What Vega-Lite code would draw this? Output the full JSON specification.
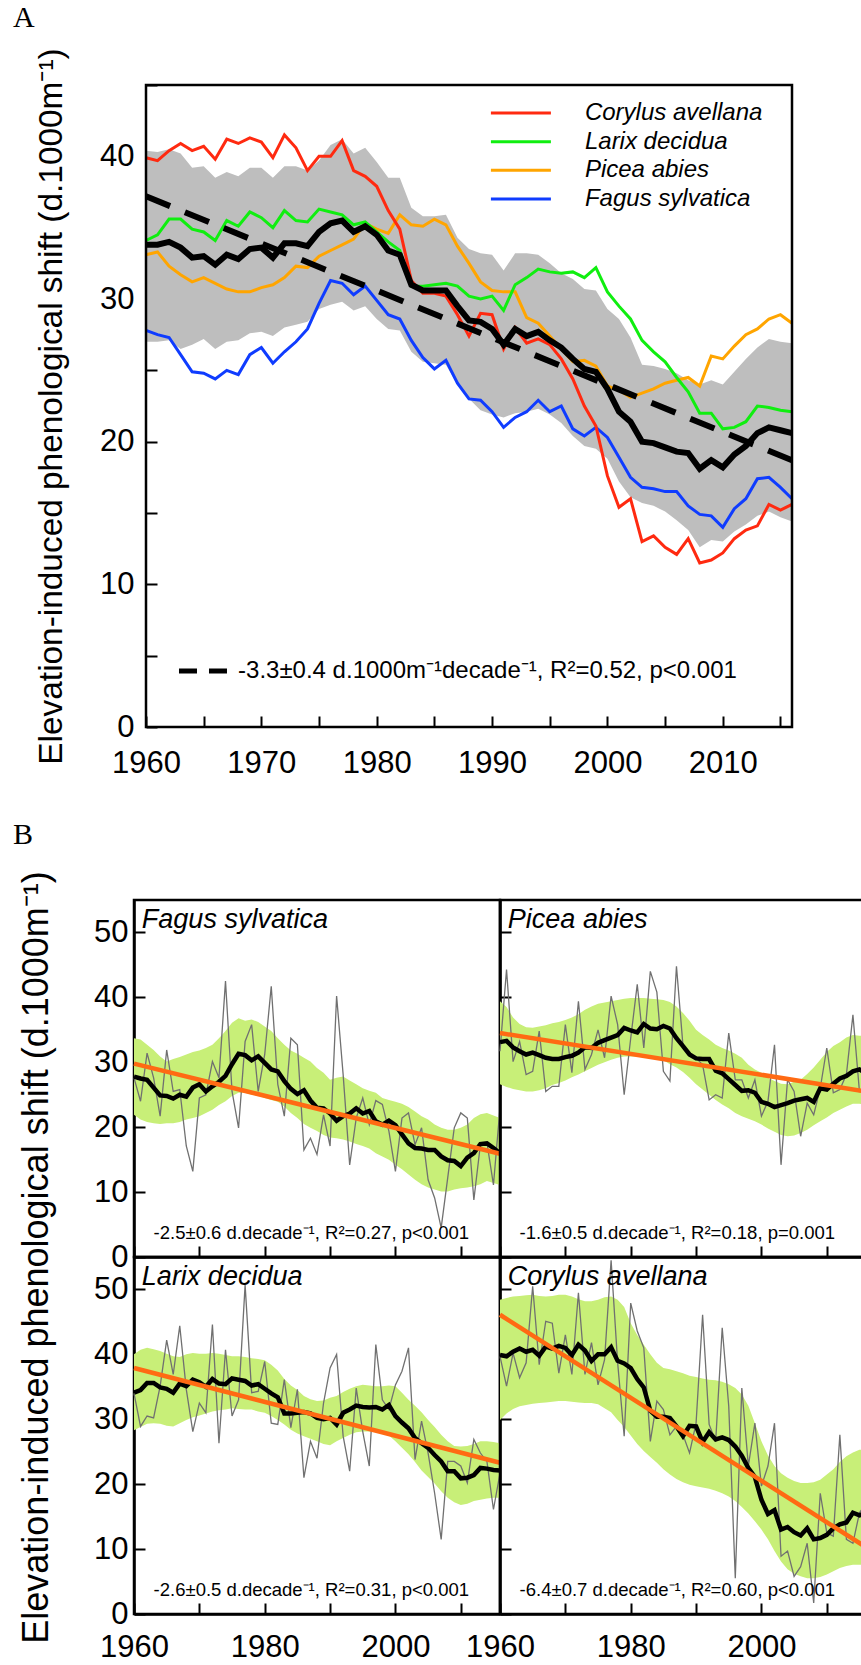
{
  "$schema": "https://vega.github.io/schema/vega-lite/v6.json",
  "padding": {"left": 11, "top": 3, "right": 0, "bottom": 0},
  "background": "white",
  "config": {
    "font": "Liberation Sans",
    "view": {"stroke": "black", "strokeWidth": 2.5},
    "axis": {"grid": false, "domainColor": "black", "domainWidth": 2.5, "tickColor": "black", "tickWidth": 2, "tickSize": -11, "labelColor": "black", "labelFont": "Liberation Sans", "labelFontSize": 31, "labelFlush": false, "labelOverlap": false, "titleColor": "black", "titleFont": "Liberation Sans", "titleFontWeight": "normal"},
    "title": {"font": "Liberation Serif", "fontSize": 30, "fontWeight": "normal", "color": "black", "anchor": "start", "frame": "group"}
  },
  "datasets": {
    "notes": [
      {"species": "all", "text": "-3.3±0.4 d.1000m⁻¹decade⁻¹, R²=0.52, p<0.001"},
      {"species": "Fagus sylvatica", "text": "-2.5±0.6 d.decade⁻¹, R²=0.27, p<0.001"},
      {"species": "Picea abies", "text": "-1.6±0.5 d.decade⁻¹, R²=0.18, p=0.001"},
      {"species": "Larix decidua", "text": "-2.6±0.5 d.decade⁻¹, R²=0.31, p<0.001"},
      {"species": "Corylus avellana", "text": "-6.4±0.7 d.decade⁻¹, R²=0.60, p<0.001"}
    ],
    "legend": [
      {"species": "Corylus avellana"}, {"species": "Larix decidua"}, {"species": "Picea abies"}, {"species": "Fagus sylvatica"}
    ],
    "trend": [
      {"species": "all", "year": 1960, "value": 37.2}, {"species": "all", "year": 2016, "value": 18.7},
      {"species": "Fagus sylvatica", "year": 1960, "value": 29.8}, {"species": "Fagus sylvatica", "year": 2016, "value": 15.9},
      {"species": "Picea abies", "year": 1960, "value": 34.5}, {"species": "Picea abies", "year": 2016, "value": 25.5},
      {"species": "Larix decidua", "year": 1960, "value": 37.9}, {"species": "Larix decidua", "year": 2016, "value": 23.3},
      {"species": "Corylus avellana", "year": 1960, "value": 46.1}, {"species": "Corylus avellana", "year": 2016, "value": 10.3}
    ],
    "meanA": [
      {"year":1960,"mean":33.8,"lo":27.0,"hi":40.4},{"year":1961,"mean":33.8,"lo":27.0,"hi":40.3},{"year":1962,"mean":34.0,"lo":27.1,"hi":40.5},{"year":1963,"mean":33.6,"lo":26.5,"hi":40.2},{"year":1964,"mean":32.9,"lo":26.8,"hi":39.2},
      {"year":1965,"mean":33.0,"lo":27.2,"hi":39.3},{"year":1966,"mean":32.4,"lo":26.5,"hi":38.5},{"year":1967,"mean":33.1,"lo":27.0,"hi":38.9},{"year":1968,"mean":32.8,"lo":27.1,"hi":38.6},{"year":1969,"mean":33.5,"lo":27.6,"hi":39.2},
      {"year":1970,"mean":33.6,"lo":27.7,"hi":39.2},{"year":1971,"mean":32.9,"lo":27.4,"hi":38.5},{"year":1972,"mean":33.9,"lo":28.0,"hi":39.3},{"year":1973,"mean":33.9,"lo":28.2,"hi":39.3},{"year":1974,"mean":33.7,"lo":28.4,"hi":39.0},
      {"year":1975,"mean":34.7,"lo":29.3,"hi":39.7},{"year":1976,"mean":35.3,"lo":29.6,"hi":40.8},{"year":1977,"mean":35.5,"lo":29.8,"hi":41.2},{"year":1978,"mean":34.7,"lo":29.2,"hi":40.2},{"year":1979,"mean":35.1,"lo":29.5,"hi":40.6},
      {"year":1980,"mean":34.5,"lo":28.6,"hi":39.6},{"year":1981,"mean":33.4,"lo":27.9,"hi":38.5},{"year":1982,"mean":33.1,"lo":27.8,"hi":38.5},{"year":1983,"mean":31.0,"lo":26.3,"hi":36.4},{"year":1984,"mean":30.6,"lo":25.6,"hi":35.8},
      {"year":1985,"mean":30.6,"lo":25.5,"hi":35.8},{"year":1986,"mean":30.6,"lo":25.4,"hi":35.9},{"year":1987,"mean":29.5,"lo":24.0,"hi":34.3},{"year":1988,"mean":28.5,"lo":23.0,"hi":33.5},{"year":1989,"mean":28.4,"lo":22.2,"hi":33.2},
      {"year":1990,"mean":27.9,"lo":21.9,"hi":33.1},{"year":1991,"mean":26.8,"lo":21.7,"hi":32.0},{"year":1992,"mean":27.9,"lo":22.0,"hi":33.2},{"year":1993,"mean":27.4,"lo":22.1,"hi":33.2},{"year":1994,"mean":27.7,"lo":22.3,"hi":33.1},
      {"year":1995,"mean":27.1,"lo":21.9,"hi":32.5},{"year":1996,"mean":26.6,"lo":21.3,"hi":31.8},{"year":1997,"mean":25.8,"lo":20.4,"hi":31.4},{"year":1998,"mean":25.1,"lo":19.7,"hi":30.7},{"year":1999,"mean":24.9,"lo":19.5,"hi":30.6},
      {"year":2000,"mean":23.7,"lo":18.8,"hi":29.3},{"year":2001,"mean":22.1,"lo":17.2,"hi":28.6},{"year":2002,"mean":21.4,"lo":16.1,"hi":27.3},{"year":2003,"mean":20.0,"lo":15.7,"hi":25.4},{"year":2004,"mean":19.9,"lo":15.5,"hi":25.3},
      {"year":2005,"mean":19.6,"lo":15.1,"hi":25.1},{"year":2006,"mean":19.3,"lo":14.5,"hi":24.8},{"year":2007,"mean":19.2,"lo":13.8,"hi":24.3},{"year":2008,"mean":18.1,"lo":12.6,"hi":24.0},{"year":2009,"mean":18.7,"lo":13.1,"hi":24.3},
      {"year":2010,"mean":18.2,"lo":13.0,"hi":24.0},{"year":2011,"mean":19.1,"lo":13.7,"hi":24.9},{"year":2012,"mean":19.7,"lo":14.2,"hi":25.8},{"year":2013,"mean":20.6,"lo":14.8,"hi":26.6},{"year":2014,"mean":21.0,"lo":15.1,"hi":27.2},
      {"year":2015,"mean":20.8,"lo":14.7,"hi":27.0},{"year":2016,"mean":20.6,"lo":14.4,"hi":26.9}
    ],
    "sp": [
      {"species":"Fagus sylvatica","year":1960,"smooth":27.8,"annual":27.6,"lo":21.9,"hi":33.7},
      {"species":"Fagus sylvatica","year":1961,"smooth":27.5,"annual":24.0,"lo":21.2,"hi":33.5},
      {"species":"Fagus sylvatica","year":1962,"smooth":27.3,"annual":31.4,"lo":20.8,"hi":32.7},
      {"species":"Fagus sylvatica","year":1963,"smooth":26.1,"annual":27.6,"lo":20.6,"hi":31.9},
      {"species":"Fagus sylvatica","year":1964,"smooth":24.9,"annual":21.7,"lo":20.5,"hi":30.9},
      {"species":"Fagus sylvatica","year":1965,"smooth":24.8,"annual":31.9,"lo":20.6,"hi":30.1},
      {"species":"Fagus sylvatica","year":1966,"smooth":24.4,"annual":25.5,"lo":20.6,"hi":30.5},
      {"species":"Fagus sylvatica","year":1967,"smooth":25.0,"annual":25.8,"lo":20.8,"hi":30.8},
      {"species":"Fagus sylvatica","year":1968,"smooth":24.7,"annual":17.1,"lo":21.2,"hi":31.2},
      {"species":"Fagus sylvatica","year":1969,"smooth":26.1,"annual":13.2,"lo":21.4,"hi":31.6},
      {"species":"Fagus sylvatica","year":1970,"smooth":26.6,"annual":24.5,"lo":21.7,"hi":31.8},
      {"species":"Fagus sylvatica","year":1971,"smooth":25.5,"annual":25.0,"lo":22.2,"hi":32.2},
      {"species":"Fagus sylvatica","year":1972,"smooth":26.3,"annual":30.1,"lo":22.7,"hi":32.7},
      {"species":"Fagus sylvatica","year":1973,"smooth":27.0,"annual":27.6,"lo":23.4,"hi":33.7},
      {"species":"Fagus sylvatica","year":1974,"smooth":27.9,"annual":42.5,"lo":24.0,"hi":34.8},
      {"species":"Fagus sylvatica","year":1975,"smooth":29.7,"annual":25.5,"lo":24.8,"hi":36.1},
      {"species":"Fagus sylvatica","year":1976,"smooth":31.3,"annual":19.9,"lo":25.3,"hi":36.8},
      {"species":"Fagus sylvatica","year":1977,"smooth":31.1,"annual":33.2,"lo":25.3,"hi":36.4},
      {"species":"Fagus sylvatica","year":1978,"smooth":30.3,"annual":35.8,"lo":25.0,"hi":36.6},
      {"species":"Fagus sylvatica","year":1979,"smooth":30.9,"annual":25.5,"lo":24.9,"hi":36.2},
      {"species":"Fagus sylvatica","year":1980,"smooth":29.9,"annual":31.2,"lo":24.5,"hi":35.5},
      {"species":"Fagus sylvatica","year":1981,"smooth":28.9,"annual":41.7,"lo":24.2,"hi":34.8},
      {"species":"Fagus sylvatica","year":1982,"smooth":28.6,"annual":26.6,"lo":23.9,"hi":33.7},
      {"species":"Fagus sylvatica","year":1983,"smooth":27.1,"annual":21.7,"lo":23.2,"hi":32.7},
      {"species":"Fagus sylvatica","year":1984,"smooth":25.9,"annual":33.7,"lo":22.2,"hi":31.8},
      {"species":"Fagus sylvatica","year":1985,"smooth":25.1,"annual":32.7,"lo":21.4,"hi":31.3},
      {"species":"Fagus sylvatica","year":1986,"smooth":25.7,"annual":16.5,"lo":20.5,"hi":30.7},
      {"species":"Fagus sylvatica","year":1987,"smooth":24.1,"annual":18.3,"lo":19.9,"hi":30.1},
      {"species":"Fagus sylvatica","year":1988,"smooth":23.0,"annual":15.8,"lo":19.4,"hi":29.1},
      {"species":"Fagus sylvatica","year":1989,"smooth":22.9,"annual":21.9,"lo":18.8,"hi":28.4},
      {"species":"Fagus sylvatica","year":1990,"smooth":22.1,"annual":17.1,"lo":18.4,"hi":27.3},
      {"species":"Fagus sylvatica","year":1991,"smooth":21.0,"annual":40.2,"lo":18.3,"hi":27.6},
      {"species":"Fagus sylvatica","year":1992,"smooth":21.7,"annual":28.1,"lo":18.1,"hi":27.8},
      {"species":"Fagus sylvatica","year":1993,"smooth":22.1,"annual":14.2,"lo":17.8,"hi":27.2},
      {"species":"Fagus sylvatica","year":1994,"smooth":22.9,"annual":21.4,"lo":17.4,"hi":26.6},
      {"species":"Fagus sylvatica","year":1995,"smooth":22.1,"annual":24.5,"lo":17.1,"hi":26.0},
      {"species":"Fagus sylvatica","year":1996,"smooth":22.5,"annual":20.4,"lo":16.7,"hi":25.6},
      {"species":"Fagus sylvatica","year":1997,"smooth":20.9,"annual":24.1,"lo":16.0,"hi":25.3},
      {"species":"Fagus sylvatica","year":1998,"smooth":20.4,"annual":23.5,"lo":15.5,"hi":24.5},
      {"species":"Fagus sylvatica","year":1999,"smooth":21.0,"annual":19.4,"lo":15.0,"hi":24.2},
      {"species":"Fagus sylvatica","year":2000,"smooth":20.3,"annual":13.2,"lo":14.2,"hi":23.9},
      {"species":"Fagus sylvatica","year":2001,"smooth":18.9,"annual":21.4,"lo":13.5,"hi":23.6},
      {"species":"Fagus sylvatica","year":2002,"smooth":17.5,"annual":22.2,"lo":12.7,"hi":23.1},
      {"species":"Fagus sylvatica","year":2003,"smooth":16.8,"annual":17.3,"lo":11.9,"hi":22.4},
      {"species":"Fagus sylvatica","year":2004,"smooth":16.7,"annual":19.9,"lo":11.2,"hi":21.7},
      {"species":"Fagus sylvatica","year":2005,"smooth":16.5,"annual":11.9,"lo":10.7,"hi":21.2},
      {"species":"Fagus sylvatica","year":2006,"smooth":16.5,"annual":9.1,"lo":10.4,"hi":20.4},
      {"species":"Fagus sylvatica","year":2007,"smooth":15.5,"annual":4.5,"lo":10.1,"hi":19.9},
      {"species":"Fagus sylvatica","year":2008,"smooth":14.9,"annual":12.2,"lo":10.1,"hi":19.6},
      {"species":"Fagus sylvatica","year":2009,"smooth":14.8,"annual":19.9,"lo":10.4,"hi":19.6},
      {"species":"Fagus sylvatica","year":2010,"smooth":14.0,"annual":22.2,"lo":10.6,"hi":19.9},
      {"species":"Fagus sylvatica","year":2011,"smooth":15.3,"annual":21.4,"lo":10.7,"hi":20.4},
      {"species":"Fagus sylvatica","year":2012,"smooth":16.0,"annual":8.8,"lo":10.9,"hi":21.4},
      {"species":"Fagus sylvatica","year":2013,"smooth":17.4,"annual":17.3,"lo":11.2,"hi":22.0},
      {"species":"Fagus sylvatica","year":2014,"smooth":17.5,"annual":17.6,"lo":11.7,"hi":22.2},
      {"species":"Fagus sylvatica","year":2015,"smooth":16.8,"annual":11.1,"lo":11.4,"hi":21.8},
      {"species":"Fagus sylvatica","year":2016,"smooth":16.0,"annual":23.0,"lo":11.1,"hi":21.4},
      {"species":"Picea abies","year":1960,"smooth":33.1,"annual":31.7,"lo":26.6,"hi":39.4},
      {"species":"Picea abies","year":1961,"smooth":33.3,"annual":44.3,"lo":26.2,"hi":38.5},
      {"species":"Picea abies","year":1962,"smooth":32.3,"annual":30.1,"lo":25.9,"hi":36.9},
      {"species":"Picea abies","year":1963,"smooth":31.7,"annual":33.2,"lo":25.7,"hi":35.9},
      {"species":"Picea abies","year":1964,"smooth":31.2,"annual":28.1,"lo":25.5,"hi":35.4},
      {"species":"Picea abies","year":1965,"smooth":31.5,"annual":28.6,"lo":25.5,"hi":35.3},
      {"species":"Picea abies","year":1966,"smooth":31.1,"annual":34.8,"lo":25.7,"hi":35.5},
      {"species":"Picea abies","year":1967,"smooth":30.7,"annual":25.5,"lo":26.0,"hi":35.7},
      {"species":"Picea abies","year":1968,"smooth":30.5,"annual":26.3,"lo":26.5,"hi":36.0},
      {"species":"Picea abies","year":1969,"smooth":30.5,"annual":26.3,"lo":26.8,"hi":36.2},
      {"species":"Picea abies","year":1970,"smooth":30.8,"annual":35.8,"lo":27.2,"hi":36.5},
      {"species":"Picea abies","year":1971,"smooth":31.0,"annual":28.4,"lo":27.7,"hi":36.9},
      {"species":"Picea abies","year":1972,"smooth":31.5,"annual":39.4,"lo":28.1,"hi":37.4},
      {"species":"Picea abies","year":1973,"smooth":32.3,"annual":28.9,"lo":28.6,"hi":38.1},
      {"species":"Picea abies","year":1974,"smooth":32.2,"annual":31.2,"lo":29.1,"hi":38.6},
      {"species":"Picea abies","year":1975,"smooth":33.0,"annual":35.0,"lo":29.6,"hi":39.0},
      {"species":"Picea abies","year":1976,"smooth":33.4,"annual":30.7,"lo":30.0,"hi":39.2},
      {"species":"Picea abies","year":1977,"smooth":33.8,"annual":40.2,"lo":30.4,"hi":39.4},
      {"species":"Picea abies","year":1978,"smooth":34.2,"annual":35.8,"lo":30.7,"hi":39.6},
      {"species":"Picea abies","year":1979,"smooth":35.3,"annual":25.0,"lo":30.9,"hi":39.8},
      {"species":"Picea abies","year":1980,"smooth":34.9,"annual":33.7,"lo":30.9,"hi":39.9},
      {"species":"Picea abies","year":1981,"smooth":34.6,"annual":42.0,"lo":30.9,"hi":39.9},
      {"species":"Picea abies","year":1982,"smooth":35.9,"annual":32.2,"lo":30.8,"hi":39.9},
      {"species":"Picea abies","year":1983,"smooth":35.2,"annual":44.0,"lo":30.7,"hi":39.8},
      {"species":"Picea abies","year":1984,"smooth":35.1,"annual":40.8,"lo":30.6,"hi":39.7},
      {"species":"Picea abies","year":1985,"smooth":35.6,"annual":28.6,"lo":30.3,"hi":39.6},
      {"species":"Picea abies","year":1986,"smooth":35.2,"annual":27.1,"lo":29.7,"hi":39.3},
      {"species":"Picea abies","year":1987,"smooth":33.7,"annual":44.8,"lo":29.2,"hi":38.6},
      {"species":"Picea abies","year":1988,"smooth":32.5,"annual":32.5,"lo":28.5,"hi":37.6},
      {"species":"Picea abies","year":1989,"smooth":31.2,"annual":31.2,"lo":27.6,"hi":36.4},
      {"species":"Picea abies","year":1990,"smooth":30.6,"annual":30.7,"lo":26.6,"hi":35.0},
      {"species":"Picea abies","year":1991,"smooth":30.5,"annual":29.6,"lo":25.8,"hi":34.2},
      {"species":"Picea abies","year":1992,"smooth":30.5,"annual":24.2,"lo":25.0,"hi":33.5},
      {"species":"Picea abies","year":1993,"smooth":28.7,"annual":25.0,"lo":24.2,"hi":32.7},
      {"species":"Picea abies","year":1994,"smooth":28.3,"annual":24.5,"lo":23.5,"hi":32.2},
      {"species":"Picea abies","year":1995,"smooth":27.4,"annual":34.5,"lo":22.9,"hi":31.8},
      {"species":"Picea abies","year":1996,"smooth":26.5,"annual":27.3,"lo":22.2,"hi":31.3},
      {"species":"Picea abies","year":1997,"smooth":25.6,"annual":27.3,"lo":21.7,"hi":30.7},
      {"species":"Picea abies","year":1998,"smooth":25.7,"annual":24.5,"lo":21.3,"hi":29.6},
      {"species":"Picea abies","year":1999,"smooth":25.3,"annual":27.3,"lo":20.9,"hi":28.9},
      {"species":"Picea abies","year":2000,"smooth":23.9,"annual":21.7,"lo":20.4,"hi":28.4},
      {"species":"Picea abies","year":2001,"smooth":23.6,"annual":24.0,"lo":19.8,"hi":27.6},
      {"species":"Picea abies","year":2002,"smooth":23.1,"annual":32.7,"lo":19.3,"hi":27.1},
      {"species":"Picea abies","year":2003,"smooth":23.4,"annual":14.2,"lo":18.8,"hi":26.7},
      {"species":"Picea abies","year":2004,"smooth":23.7,"annual":27.3,"lo":18.6,"hi":26.6},
      {"species":"Picea abies","year":2005,"smooth":24.1,"annual":25.5,"lo":18.7,"hi":27.0},
      {"species":"Picea abies","year":2006,"smooth":24.3,"annual":18.6,"lo":19.1,"hi":27.3},
      {"species":"Picea abies","year":2007,"smooth":24.5,"annual":23.7,"lo":19.6,"hi":28.2},
      {"species":"Picea abies","year":2008,"smooth":23.9,"annual":21.9,"lo":20.3,"hi":29.2},
      {"species":"Picea abies","year":2009,"smooth":26.0,"annual":26.0,"lo":20.9,"hi":30.4},
      {"species":"Picea abies","year":2010,"smooth":25.8,"annual":32.2,"lo":21.5,"hi":31.6},
      {"species":"Picea abies","year":2011,"smooth":26.7,"annual":25.3,"lo":22.2,"hi":32.5},
      {"species":"Picea abies","year":2012,"smooth":27.5,"annual":25.8,"lo":22.7,"hi":33.1},
      {"species":"Picea abies","year":2013,"smooth":27.9,"annual":28.1,"lo":23.2,"hi":33.8},
      {"species":"Picea abies","year":2014,"smooth":28.6,"annual":37.3,"lo":23.6,"hi":34.2},
      {"species":"Picea abies","year":2015,"smooth":28.9,"annual":25.5,"lo":23.6,"hi":34.1},
      {"species":"Picea abies","year":2016,"smooth":28.3,"annual":26.0,"lo":23.5,"hi":34.0},
      {"species":"Larix decidua","year":1960,"smooth":34.1,"annual":34.0,"lo":28.3,"hi":40.0},
      {"species":"Larix decidua","year":1961,"smooth":34.5,"annual":28.9,"lo":28.8,"hi":40.7},
      {"species":"Larix decidua","year":1962,"smooth":35.6,"annual":30.5,"lo":29.3,"hi":41.0},
      {"species":"Larix decidua","year":1963,"smooth":35.6,"annual":30.2,"lo":29.4,"hi":40.8},
      {"species":"Larix decidua","year":1964,"smooth":34.9,"annual":35.1,"lo":29.3,"hi":40.5},
      {"species":"Larix decidua","year":1965,"smooth":34.7,"annual":42.2,"lo":29.0,"hi":40.1},
      {"species":"Larix decidua","year":1966,"smooth":34.1,"annual":36.9,"lo":28.9,"hi":39.7},
      {"species":"Larix decidua","year":1967,"smooth":35.5,"annual":44.4,"lo":29.4,"hi":39.6},
      {"species":"Larix decidua","year":1968,"smooth":35.1,"annual":34.6,"lo":29.9,"hi":40.0},
      {"species":"Larix decidua","year":1969,"smooth":36.1,"annual":28.1,"lo":30.3,"hi":40.2},
      {"species":"Larix decidua","year":1970,"smooth":35.7,"annual":32.5,"lo":30.6,"hi":40.1},
      {"species":"Larix decidua","year":1971,"smooth":35.0,"annual":31.0,"lo":30.9,"hi":40.1},
      {"species":"Larix decidua","year":1972,"smooth":36.2,"annual":44.6,"lo":31.2,"hi":40.2},
      {"species":"Larix decidua","year":1973,"smooth":35.5,"annual":26.3,"lo":31.4,"hi":40.1},
      {"species":"Larix decidua","year":1974,"smooth":35.4,"annual":40.7,"lo":31.5,"hi":39.9},
      {"species":"Larix decidua","year":1975,"smooth":36.3,"annual":30.5,"lo":31.7,"hi":39.7},
      {"species":"Larix decidua","year":1976,"smooth":36.1,"annual":33.0,"lo":31.6,"hi":39.7},
      {"species":"Larix decidua","year":1977,"smooth":35.9,"annual":50.7,"lo":31.5,"hi":39.6},
      {"species":"Larix decidua","year":1978,"smooth":35.2,"annual":34.1,"lo":31.5,"hi":39.4},
      {"species":"Larix decidua","year":1979,"smooth":35.4,"annual":34.3,"lo":31.2,"hi":39.3},
      {"species":"Larix decidua","year":1980,"smooth":34.7,"annual":38.9,"lo":31.0,"hi":39.1},
      {"species":"Larix decidua","year":1981,"smooth":34.0,"annual":29.4,"lo":30.5,"hi":38.4},
      {"species":"Larix decidua","year":1982,"smooth":33.4,"annual":29.2,"lo":29.9,"hi":37.5},
      {"species":"Larix decidua","year":1983,"smooth":30.9,"annual":36.1,"lo":29.2,"hi":36.2},
      {"species":"Larix decidua","year":1984,"smooth":30.9,"annual":28.7,"lo":28.4,"hi":35.2},
      {"species":"Larix decidua","year":1985,"smooth":31.0,"annual":34.6,"lo":27.8,"hi":34.5},
      {"species":"Larix decidua","year":1986,"smooth":31.1,"annual":21.0,"lo":27.4,"hi":33.6},
      {"species":"Larix decidua","year":1987,"smooth":30.9,"annual":26.6,"lo":27.0,"hi":33.1},
      {"species":"Larix decidua","year":1988,"smooth":30.2,"annual":24.0,"lo":26.6,"hi":32.8},
      {"species":"Larix decidua","year":1989,"smooth":30.0,"annual":32.5,"lo":26.2,"hi":32.9},
      {"species":"Larix decidua","year":1990,"smooth":30.2,"annual":37.9,"lo":26.0,"hi":33.3},
      {"species":"Larix decidua","year":1991,"smooth":29.2,"annual":40.0,"lo":26.6,"hi":33.6},
      {"species":"Larix decidua","year":1992,"smooth":31.0,"annual":27.4,"lo":27.1,"hi":34.2},
      {"species":"Larix decidua","year":1993,"smooth":31.5,"annual":22.0,"lo":27.6,"hi":34.7},
      {"species":"Larix decidua","year":1994,"smooth":32.1,"annual":34.8,"lo":28.0,"hi":35.1},
      {"species":"Larix decidua","year":1995,"smooth":31.9,"annual":28.1,"lo":28.1,"hi":35.3},
      {"species":"Larix decidua","year":1996,"smooth":31.8,"annual":22.8,"lo":28.1,"hi":35.2},
      {"species":"Larix decidua","year":1997,"smooth":31.9,"annual":41.5,"lo":28.1,"hi":35.1},
      {"species":"Larix decidua","year":1998,"smooth":31.5,"annual":33.0,"lo":27.9,"hi":35.1},
      {"species":"Larix decidua","year":1999,"smooth":32.2,"annual":31.5,"lo":27.5,"hi":35.2},
      {"species":"Larix decidua","year":2000,"smooth":30.5,"annual":35.3,"lo":26.6,"hi":35.1},
      {"species":"Larix decidua","year":2001,"smooth":29.5,"annual":37.4,"lo":25.6,"hi":34.1},
      {"species":"Larix decidua","year":2002,"smooth":28.6,"annual":41.0,"lo":24.6,"hi":33.0},
      {"species":"Larix decidua","year":2003,"smooth":27.1,"annual":23.8,"lo":23.4,"hi":32.1},
      {"species":"Larix decidua","year":2004,"smooth":26.3,"annual":29.7,"lo":22.1,"hi":31.1},
      {"species":"Larix decidua","year":2005,"smooth":25.6,"annual":24.8,"lo":21.1,"hi":29.9},
      {"species":"Larix decidua","year":2006,"smooth":24.5,"annual":18.6,"lo":20.1,"hi":28.8},
      {"species":"Larix decidua","year":2007,"smooth":23.5,"annual":11.5,"lo":18.9,"hi":27.6},
      {"species":"Larix decidua","year":2008,"smooth":22.0,"annual":23.5,"lo":17.9,"hi":26.6},
      {"species":"Larix decidua","year":2009,"smooth":22.0,"annual":23.5,"lo":17.2,"hi":25.9},
      {"species":"Larix decidua","year":2010,"smooth":20.9,"annual":22.8,"lo":16.8,"hi":25.8},
      {"species":"Larix decidua","year":2011,"smooth":21.0,"annual":20.2,"lo":17.0,"hi":25.9},
      {"species":"Larix decidua","year":2012,"smooth":21.4,"annual":26.9,"lo":17.4,"hi":26.2},
      {"species":"Larix decidua","year":2013,"smooth":22.5,"annual":24.8,"lo":17.6,"hi":26.6},
      {"species":"Larix decidua","year":2014,"smooth":22.4,"annual":23.5,"lo":17.8,"hi":26.6},
      {"species":"Larix decidua","year":2015,"smooth":22.2,"annual":16.1,"lo":17.9,"hi":26.5},
      {"species":"Larix decidua","year":2016,"smooth":22.1,"annual":21.7,"lo":17.9,"hi":26.3},
      {"species":"Corylus avellana","year":1960,"smooth":39.9,"annual":39.7,"lo":29.9,"hi":48.4},
      {"species":"Corylus avellana","year":1961,"smooth":39.7,"annual":35.1,"lo":30.9,"hi":48.7},
      {"species":"Corylus avellana","year":1962,"smooth":40.4,"annual":40.2,"lo":31.6,"hi":48.9},
      {"species":"Corylus avellana","year":1963,"smooth":40.9,"annual":36.4,"lo":32.0,"hi":49.0},
      {"species":"Corylus avellana","year":1964,"smooth":40.4,"annual":38.7,"lo":32.2,"hi":49.1},
      {"species":"Corylus avellana","year":1965,"smooth":40.7,"annual":50.5,"lo":32.4,"hi":49.2},
      {"species":"Corylus avellana","year":1966,"smooth":39.8,"annual":38.4,"lo":32.5,"hi":49.0},
      {"species":"Corylus avellana","year":1967,"smooth":41.2,"annual":45.1,"lo":32.6,"hi":48.9},
      {"species":"Corylus avellana","year":1968,"smooth":40.9,"annual":44.8,"lo":32.7,"hi":49.0},
      {"species":"Corylus avellana","year":1969,"smooth":41.3,"annual":37.1,"lo":32.8,"hi":49.2},
      {"species":"Corylus avellana","year":1970,"smooth":41.0,"annual":43.0,"lo":32.8,"hi":49.2},
      {"species":"Corylus avellana","year":1971,"smooth":39.9,"annual":36.9,"lo":32.7,"hi":48.9},
      {"species":"Corylus avellana","year":1972,"smooth":41.5,"annual":49.5,"lo":32.6,"hi":48.5},
      {"species":"Corylus avellana","year":1973,"smooth":40.6,"annual":36.9,"lo":32.5,"hi":48.2},
      {"species":"Corylus avellana","year":1974,"smooth":39.0,"annual":41.8,"lo":32.5,"hi":48.2},
      {"species":"Corylus avellana","year":1975,"smooth":40.0,"annual":35.3,"lo":32.3,"hi":48.4},
      {"species":"Corylus avellana","year":1976,"smooth":40.0,"annual":39.2,"lo":31.7,"hi":48.8},
      {"species":"Corylus avellana","year":1977,"smooth":41.1,"annual":54.5,"lo":31.1,"hi":48.9},
      {"species":"Corylus avellana","year":1978,"smooth":39.0,"annual":38.7,"lo":29.9,"hi":48.4},
      {"species":"Corylus avellana","year":1979,"smooth":38.6,"annual":27.4,"lo":28.8,"hi":47.3},
      {"species":"Corylus avellana","year":1980,"smooth":37.9,"annual":47.9,"lo":27.5,"hi":44.8},
      {"species":"Corylus avellana","year":1981,"smooth":36.2,"annual":43.6,"lo":26.2,"hi":43.0},
      {"species":"Corylus avellana","year":1982,"smooth":34.9,"annual":41.0,"lo":25.1,"hi":41.5},
      {"species":"Corylus avellana","year":1983,"smooth":31.3,"annual":26.6,"lo":24.2,"hi":40.0},
      {"species":"Corylus avellana","year":1984,"smooth":30.4,"annual":32.8,"lo":23.3,"hi":38.7},
      {"species":"Corylus avellana","year":1985,"smooth":30.4,"annual":31.5,"lo":22.3,"hi":37.9},
      {"species":"Corylus avellana","year":1986,"smooth":30.2,"annual":27.6,"lo":21.5,"hi":37.7},
      {"species":"Corylus avellana","year":1987,"smooth":28.9,"annual":28.9,"lo":20.8,"hi":37.4},
      {"species":"Corylus avellana","year":1988,"smooth":27.4,"annual":27.6,"lo":20.3,"hi":37.1},
      {"species":"Corylus avellana","year":1989,"smooth":29.0,"annual":24.8,"lo":19.9,"hi":36.7},
      {"species":"Corylus avellana","year":1990,"smooth":28.9,"annual":29.4,"lo":19.7,"hi":36.5},
      {"species":"Corylus avellana","year":1991,"smooth":26.5,"annual":46.1,"lo":19.5,"hi":36.3},
      {"species":"Corylus avellana","year":1992,"smooth":28.0,"annual":29.2,"lo":19.3,"hi":36.1},
      {"species":"Corylus avellana","year":1993,"smooth":26.9,"annual":26.6,"lo":19.0,"hi":36.0},
      {"species":"Corylus avellana","year":1994,"smooth":27.2,"annual":44.1,"lo":18.6,"hi":35.8},
      {"species":"Corylus avellana","year":1995,"smooth":26.8,"annual":32.0,"lo":18.1,"hi":35.4},
      {"species":"Corylus avellana","year":1996,"smooth":25.8,"annual":5.5,"lo":17.4,"hi":34.8},
      {"species":"Corylus avellana","year":1997,"smooth":24.4,"annual":34.8,"lo":16.5,"hi":33.8},
      {"species":"Corylus avellana","year":1998,"smooth":22.5,"annual":22.8,"lo":15.5,"hi":32.1},
      {"species":"Corylus avellana","year":1999,"smooth":21.1,"annual":29.4,"lo":14.3,"hi":29.4},
      {"species":"Corylus avellana","year":2000,"smooth":17.6,"annual":19.7,"lo":13.0,"hi":26.6},
      {"species":"Corylus avellana","year":2001,"smooth":15.4,"annual":22.8,"lo":11.5,"hi":24.4},
      {"species":"Corylus avellana","year":2002,"smooth":16.0,"annual":29.4,"lo":9.7,"hi":22.8},
      {"species":"Corylus avellana","year":2003,"smooth":13.0,"annual":8.9,"lo":8.1,"hi":21.7},
      {"species":"Corylus avellana","year":2004,"smooth":13.4,"annual":9.7,"lo":6.9,"hi":21.0},
      {"species":"Corylus avellana","year":2005,"smooth":12.6,"annual":5.8,"lo":6.2,"hi":20.5},
      {"species":"Corylus avellana","year":2006,"smooth":12.1,"annual":7.3,"lo":5.8,"hi":20.2},
      {"species":"Corylus avellana","year":2007,"smooth":13.2,"annual":10.9,"lo":5.5,"hi":20.2},
      {"species":"Corylus avellana","year":2008,"smooth":11.5,"annual":1.7,"lo":5.5,"hi":20.3},
      {"species":"Corylus avellana","year":2009,"smooth":11.7,"annual":18.6,"lo":5.7,"hi":20.7},
      {"species":"Corylus avellana","year":2010,"smooth":12.2,"annual":12.5,"lo":6.1,"hi":21.5},
      {"species":"Corylus avellana","year":2011,"smooth":13.2,"annual":12.0,"lo":6.6,"hi":22.3},
      {"species":"Corylus avellana","year":2012,"smooth":13.8,"annual":27.6,"lo":7.1,"hi":23.4},
      {"species":"Corylus avellana","year":2013,"smooth":14.1,"annual":11.5,"lo":7.4,"hi":24.3},
      {"species":"Corylus avellana","year":2014,"smooth":15.6,"annual":10.9,"lo":7.6,"hi":24.9},
      {"species":"Corylus avellana","year":2015,"smooth":15.2,"annual":15.6,"lo":7.6,"hi":25.3},
      {"species":"Corylus avellana","year":2016,"smooth":15.6,"annual":17.0,"lo":7.6,"hi":25.4}
    ]
  },
  "concat": [
    {
      "width": 658, "height": 642,
      "view": {"stroke": null},
      "title": {"text": "A", "dx": -121, "offset": -9.5, "baseline": "alphabetic"},
      "resolve": {"scale": {"y": "independent"}},
      "layer": [
        {"layer": [
          {"data": {"name": "meanA"}, "mark": {"type": "area", "color": "#bebebe"},
           "encoding": {
             "x": {"field": "year", "type": "quantitative", "scale": {"domain": [1960, 2016], "range": [12, 658], "nice": false, "zero": false},
                   "axis": {"values": [1960,1965,1970,1975,1980,1985,1990,1995,2000,2005,2010,2015], "format": "d", "labelExpr": "datum.value % 10 === 0 ? datum.label : ''", "title": null, "labelPadding": 32, "domain": false}},
             "y": {"field": "lo", "type": "quantitative", "scale": {"domain": [0, 45], "nice": false},
                   "axis": {"values": [0,5,10,15,20,25,30,35,40,45], "labelExpr": "datum.value % 10 === 0 ? datum.label : ''", "title": "Elevation-induced phenological shift (d.1000m⁻¹)", "titleFontSize": 33.4, "titleX": -78, "titleBaseline": "bottom", "titleAngle": 270, "labelPadding": 23, "offset": -12, "domain": false}},
             "y2": {"field": "hi"}
           }},
          {"data": {"name": "sp"}, "mark": {"type": "line", "strokeWidth": 3},
           "encoding": {
             "x": {"field": "year", "type": "quantitative", "scale": {"domain": [1960, 2016], "range": [12, 658], "nice": false, "zero": false}},
             "y": {"field": "smooth", "type": "quantitative", "scale": {"domain": [0, 45], "nice": false}},
             "color": {"field": "species", "type": "nominal", "scale": {"domain": ["Corylus avellana", "Larix decidua", "Picea abies", "Fagus sylvatica"], "range": ["#ff2a10", "#10ee10", "#ffa500", "#0f3cff"]}, "legend": null}
           }},
          {"data": {"name": "meanA"}, "mark": {"type": "line", "color": "black", "strokeWidth": 6},
           "encoding": {
             "x": {"field": "year", "type": "quantitative", "scale": {"domain": [1960, 2016], "range": [12, 658], "nice": false, "zero": false}},
             "y": {"field": "mean", "type": "quantitative", "scale": {"domain": [0, 45], "nice": false}}
           }},
          {"data": {"name": "trend"}, "transform": [{"filter": "datum.species === 'all'"}], "mark": {"type": "line", "color": "black", "strokeWidth": 6, "strokeDash": [26, 16]},
           "encoding": {
             "x": {"field": "year", "type": "quantitative", "scale": {"domain": [1960, 2016], "range": [12, 658], "nice": false, "zero": false}},
             "y": {"field": "value", "type": "quantitative", "scale": {"domain": [0, 45], "nice": false}}
           }},
          {"data": {"name": "notes"}, "transform": [{"filter": "datum.species === 'all'"}], "layer": [
            {"mark": {"type": "rule", "color": "black", "strokeWidth": 5, "strokeDash": [18, 12]},
             "encoding": {"x": {"datum": 1962.86}, "x2": {"datum": 1967.02}, "y": {"datum": 3.93}}},
            {"mark": {"type": "text", "align": "left", "baseline": "middle", "fontSize": 24, "color": "black"},
             "encoding": {"x": {"datum": 1967.98}, "y": {"datum": 3.93}, "text": {"field": "text"}}},
            {"mark": {"type": "rect", "fill": "transparent", "stroke": "black", "strokeWidth": 2.5},
             "encoding": {"x": {"datum": 1960}, "x2": {"datum": 2016}, "y": {"datum": 0}, "y2": {"datum": 45}}}
          ]}
        ]},
        {"data": {"name": "legend"}, "layer": [
          {"mark": {"type": "rule", "strokeWidth": 3},
           "encoding": {
             "x": {"datum": 1989.9}, "x2": {"datum": 1995.1},
             "y": {"field": "species", "type": "nominal", "scale": {"type": "point", "domain": ["Corylus avellana", "Larix decidua", "Picea abies", "Fagus sylvatica"], "range": [28, 114], "padding": 0}, "axis": null},
             "color": {"field": "species", "type": "nominal", "legend": null}
           }},
          {"mark": {"type": "text", "align": "left", "baseline": "middle", "fontSize": 24, "fontStyle": "italic", "color": "black"},
           "encoding": {
             "x": {"datum": 1998.05},
             "y": {"field": "species", "type": "nominal", "scale": {"type": "point", "domain": ["Corylus avellana", "Larix decidua", "Picea abies", "Fagus sylvatica"], "range": [28, 114], "padding": 0}, "axis": null},
             "text": {"field": "species"}
           }}
        ]}
      ]
    },
    {
      "concat": [
        {
          "width": 366, "height": 357,
          "title": {"text": "B", "dx": -121, "offset": -3, "baseline": "alphabetic"},
          "layer": [
            {"data": {"name": "sp"}, "transform": [{"filter": "datum.species === 'Fagus sylvatica'"}], "layer": [
              {"mark": {"type": "area", "color": "#c8ef78"},
               "encoding": {
                 "x": {"field": "year", "type": "quantitative", "scale": {"domain": [1960, 2016], "nice": false, "zero": false},
                       "axis": {"values": [1960,1970,1980,1990,2000,2010], "labels": false, "title": null}},
                 "y": {"field": "lo", "type": "quantitative", "scale": {"domain": [0, 55], "nice": false},
                       "axis": {"values": [0,5,10,15,20,25,30,35,40,45,50], "labelExpr": "datum.value % 10 === 0 ? datum.label : ''", "labelPadding": 17, "title": "Elevation-induced phenological shift (d.1000m⁻¹)", "titleFontSize": 36, "titleX": -79, "titleY": 357, "titleBaseline": "bottom", "titleAngle": 270}},
                 "y2": {"field": "hi"}
               }},
              {"mark": {"type": "line", "color": "#707070", "strokeWidth": 1.3},
               "encoding": {"x": {"field": "year", "type": "quantitative", "scale": {"domain": [1960, 2016], "nice": false, "zero": false}}, "y": {"field": "annual", "type": "quantitative", "scale": {"domain": [0, 55], "nice": false}}}},
              {"mark": {"type": "line", "color": "black", "strokeWidth": 4.5},
               "encoding": {"x": {"field": "year", "type": "quantitative", "scale": {"domain": [1960, 2016], "nice": false, "zero": false}}, "y": {"field": "smooth", "type": "quantitative", "scale": {"domain": [0, 55], "nice": false}}}}
            ]},
            {"data": {"name": "trend"}, "transform": [{"filter": "datum.species === 'Fagus sylvatica'"}], "mark": {"type": "line", "color": "#ff6a13", "strokeWidth": 4.5},
             "encoding": {"x": {"field": "year", "type": "quantitative", "scale": {"domain": [1960, 2016], "nice": false, "zero": false}}, "y": {"field": "value", "type": "quantitative", "scale": {"domain": [0, 55], "nice": false}}}},
            {"data": {"name": "notes"}, "transform": [{"filter": "datum.species === 'Fagus sylvatica'"}], "layer": [
              {"mark": {"type": "text", "align": "left", "baseline": "middle", "fontSize": 27, "fontStyle": "italic", "color": "black"},
               "encoding": {"x": {"datum": 1961.2}, "y": {"datum": 51.9}, "text": {"field": "species"}}},
              {"mark": {"type": "text", "align": "left", "baseline": "middle", "fontSize": 18.5, "color": "black"},
               "encoding": {"x": {"datum": 1963}, "y": {"datum": 3.7}, "text": {"field": "text"}}}
            ]}
          ]
        },
        {
          "width": 366, "height": 357,
          "layer": [
            {"data": {"name": "sp"}, "transform": [{"filter": "datum.species === 'Picea abies'"}], "layer": [
              {"mark": {"type": "area", "color": "#c8ef78"},
               "encoding": {
                 "x": {"field": "year", "type": "quantitative", "scale": {"domain": [1960, 2016], "nice": false, "zero": false},
                       "axis": {"values": [1960,1970,1980,1990,2000,2010], "labels": false, "title": null}},
                 "y": {"field": "lo", "type": "quantitative", "scale": {"domain": [0, 55], "nice": false},
                       "axis": {"values": [0,5,10,15,20,25,30,35,40,45,50], "labels": false, "title": null}},
                 "y2": {"field": "hi"}
               }},
              {"mark": {"type": "line", "color": "#707070", "strokeWidth": 1.3},
               "encoding": {"x": {"field": "year", "type": "quantitative", "scale": {"domain": [1960, 2016], "nice": false, "zero": false}}, "y": {"field": "annual", "type": "quantitative", "scale": {"domain": [0, 55], "nice": false}}}},
              {"mark": {"type": "line", "color": "black", "strokeWidth": 4.5},
               "encoding": {"x": {"field": "year", "type": "quantitative", "scale": {"domain": [1960, 2016], "nice": false, "zero": false}}, "y": {"field": "smooth", "type": "quantitative", "scale": {"domain": [0, 55], "nice": false}}}}
            ]},
            {"data": {"name": "trend"}, "transform": [{"filter": "datum.species === 'Picea abies'"}], "mark": {"type": "line", "color": "#ff6a13", "strokeWidth": 4.5},
             "encoding": {"x": {"field": "year", "type": "quantitative", "scale": {"domain": [1960, 2016], "nice": false, "zero": false}}, "y": {"field": "value", "type": "quantitative", "scale": {"domain": [0, 55], "nice": false}}}},
            {"data": {"name": "notes"}, "transform": [{"filter": "datum.species === 'Picea abies'"}], "layer": [
              {"mark": {"type": "text", "align": "left", "baseline": "middle", "fontSize": 27, "fontStyle": "italic", "color": "black"},
               "encoding": {"x": {"datum": 1961.2}, "y": {"datum": 51.9}, "text": {"field": "species"}}},
              {"mark": {"type": "text", "align": "left", "baseline": "middle", "fontSize": 18.5, "color": "black"},
               "encoding": {"x": {"datum": 1963}, "y": {"datum": 3.7}, "text": {"field": "text"}}}
            ]}
          ]
        },
        {
          "width": 366, "height": 357,
          "layer": [
            {"data": {"name": "sp"}, "transform": [{"filter": "datum.species === 'Larix decidua'"}], "layer": [
              {"mark": {"type": "area", "color": "#c8ef78"},
               "encoding": {
                 "x": {"field": "year", "type": "quantitative", "scale": {"domain": [1960, 2016], "nice": false, "zero": false},
                       "axis": {"values": [1960,1970,1980,1990,2000,2010], "format": "d", "labelExpr": "datum.value % 20 === 0 ? datum.label : ''", "labelPadding": 29, "title": null}},
                 "y": {"field": "lo", "type": "quantitative", "scale": {"domain": [0, 55], "nice": false},
                       "axis": {"values": [0,5,10,15,20,25,30,35,40,45,50], "labelExpr": "datum.value % 10 === 0 ? datum.label : ''", "labelPadding": 17, "title": null}},
                 "y2": {"field": "hi"}
               }},
              {"mark": {"type": "line", "color": "#707070", "strokeWidth": 1.3},
               "encoding": {"x": {"field": "year", "type": "quantitative", "scale": {"domain": [1960, 2016], "nice": false, "zero": false}}, "y": {"field": "annual", "type": "quantitative", "scale": {"domain": [0, 55], "nice": false}}}},
              {"mark": {"type": "line", "color": "black", "strokeWidth": 4.5},
               "encoding": {"x": {"field": "year", "type": "quantitative", "scale": {"domain": [1960, 2016], "nice": false, "zero": false}}, "y": {"field": "smooth", "type": "quantitative", "scale": {"domain": [0, 55], "nice": false}}}}
            ]},
            {"data": {"name": "trend"}, "transform": [{"filter": "datum.species === 'Larix decidua'"}], "mark": {"type": "line", "color": "#ff6a13", "strokeWidth": 4.5},
             "encoding": {"x": {"field": "year", "type": "quantitative", "scale": {"domain": [1960, 2016], "nice": false, "zero": false}}, "y": {"field": "value", "type": "quantitative", "scale": {"domain": [0, 55], "nice": false}}}},
            {"data": {"name": "notes"}, "transform": [{"filter": "datum.species === 'Larix decidua'"}], "layer": [
              {"mark": {"type": "text", "align": "left", "baseline": "middle", "fontSize": 27, "fontStyle": "italic", "color": "black"},
               "encoding": {"x": {"datum": 1961.2}, "y": {"datum": 51.9}, "text": {"field": "species"}}},
              {"mark": {"type": "text", "align": "left", "baseline": "middle", "fontSize": 18.5, "color": "black"},
               "encoding": {"x": {"datum": 1963}, "y": {"datum": 3.7}, "text": {"field": "text"}}}
            ]}
          ]
        },
        {
          "width": 366, "height": 357,
          "layer": [
            {"data": {"name": "sp"}, "transform": [{"filter": "datum.species === 'Corylus avellana'"}], "layer": [
              {"mark": {"type": "area", "color": "#c8ef78"},
               "encoding": {
                 "x": {"field": "year", "type": "quantitative", "scale": {"domain": [1960, 2016], "nice": false, "zero": false},
                       "axis": {"values": [1960,1970,1980,1990,2000,2010], "format": "d", "labelExpr": "datum.value % 20 === 0 ? datum.label : ''", "labelPadding": 29, "title": null}},
                 "y": {"field": "lo", "type": "quantitative", "scale": {"domain": [0, 55], "nice": false},
                       "axis": {"values": [0,5,10,15,20,25,30,35,40,45,50], "labels": false, "title": null}},
                 "y2": {"field": "hi"}
               }},
              {"mark": {"type": "line", "color": "#707070", "strokeWidth": 1.3},
               "encoding": {"x": {"field": "year", "type": "quantitative", "scale": {"domain": [1960, 2016], "nice": false, "zero": false}}, "y": {"field": "annual", "type": "quantitative", "scale": {"domain": [0, 55], "nice": false}}}},
              {"mark": {"type": "line", "color": "black", "strokeWidth": 4.5},
               "encoding": {"x": {"field": "year", "type": "quantitative", "scale": {"domain": [1960, 2016], "nice": false, "zero": false}}, "y": {"field": "smooth", "type": "quantitative", "scale": {"domain": [0, 55], "nice": false}}}}
            ]},
            {"data": {"name": "trend"}, "transform": [{"filter": "datum.species === 'Corylus avellana'"}], "mark": {"type": "line", "color": "#ff6a13", "strokeWidth": 4.5},
             "encoding": {"x": {"field": "year", "type": "quantitative", "scale": {"domain": [1960, 2016], "nice": false, "zero": false}}, "y": {"field": "value", "type": "quantitative", "scale": {"domain": [0, 55], "nice": false}}}},
            {"data": {"name": "notes"}, "transform": [{"filter": "datum.species === 'Corylus avellana'"}], "layer": [
              {"mark": {"type": "text", "align": "left", "baseline": "middle", "fontSize": 27, "fontStyle": "italic", "color": "black"},
               "encoding": {"x": {"datum": 1961.2}, "y": {"datum": 51.9}, "text": {"field": "species"}}},
              {"mark": {"type": "text", "align": "left", "baseline": "middle", "fontSize": 18.5, "color": "black"},
               "encoding": {"x": {"datum": 1963}, "y": {"datum": 3.7}, "text": {"field": "text"}}}
            ]}
          ]
        }
      ],
      "columns": 2,
      "spacing": 0,
      "bounds": "flush"
    }
  ],
  "columns": 1,
  "align": "none",
  "spacing": 40
}
